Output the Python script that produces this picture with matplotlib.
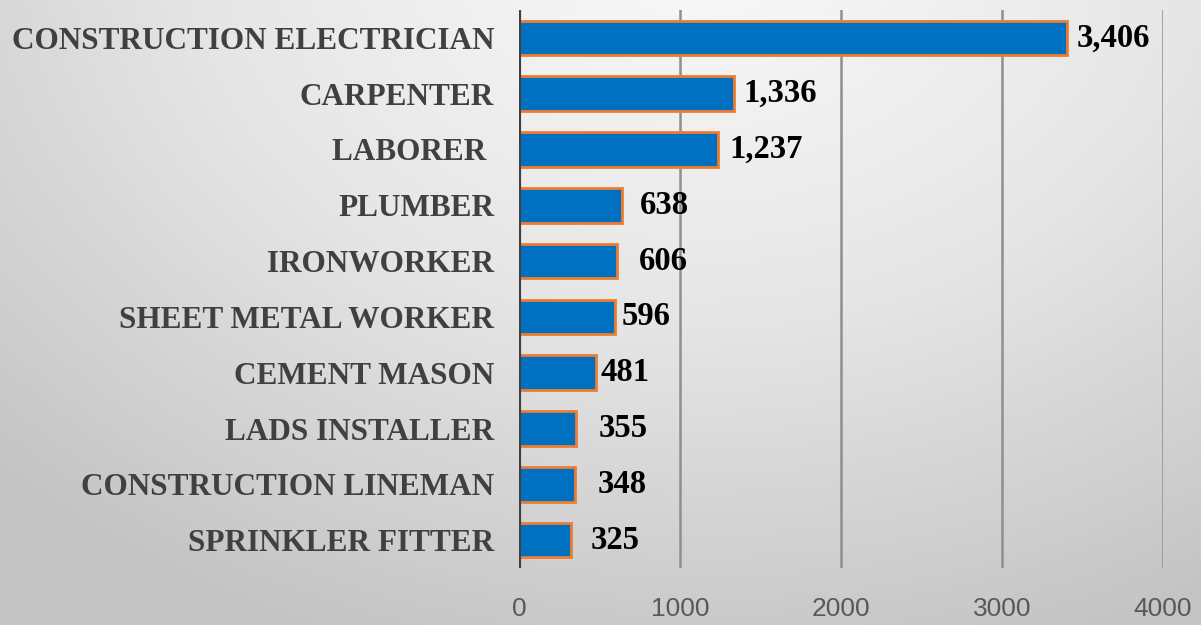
import numpy as np
import matplotlib
matplotlib.use("Agg")
import matplotlib.pyplot as plt
from matplotlib.colors import LinearSegmentedColormap

categories = ["CONSTRUCTION ELECTRICIAN", "CARPENTER", "LABORER ", "PLUMBER", "IRONWORKER",
              "SHEET METAL WORKER", "CEMENT MASON", "LADS INSTALLER", "CONSTRUCTION LINEMAN",
              "SPRINKLER FITTER"]
values = [3406, 1336, 1237, 638, 606, 596, 481, 355, 348, 325]
value_labels = ["3,406", "1,336", "1,237", "638", "606", "596", "481", "355", "348", "325"]
xticks = [0, 1000, 2000, 3000, 4000]

# label offsets in points (style)
label_pad = [7, 7, 8, 13, 16, 5, 3, 16, 16, 14]

W, H = 1201, 625
fig = plt.figure(figsize=(W / 100, H / 100), dpi=100)

# background radial gradient
bg = fig.add_axes([0, 0, 1, 1], zorder=-10)
yy, xx = np.mgrid[0:H, 0:W]
d = np.sqrt(((xx - 700) / 1.0) ** 2 + ((yy + 60) / 0.75) ** 2)
d = np.clip(d / 1000.0, 0, 1)
cmap = LinearSegmentedColormap.from_list("bg", ["#fafafa", "#e6e6e6", "#c4c4c4"])
bg.imshow(d, cmap=cmap, aspect="auto", extent=[0, 1, 0, 1], vmin=0, vmax=1)
bg.axis("off")

ax = fig.add_axes([519 / W, 1 - 568 / H, (1163 - 519) / W, (568 - 10) / H])
ax.patch.set_alpha(0)
y = np.arange(len(categories))
ax.barh(y, values, height=0.62, color="#0070C0", edgecolor="#ED7D31", linewidth=2.0, zorder=3)
ax.set_ylim(len(categories) - 0.5, -0.5)
ax.set_xlim(0, 4000)
ax.set_xticks(xticks)
ax.set_xticklabels([str(t) for t in xticks], family=["Liberation Sans", "DejaVu Sans"],
                   fontsize=19, color="#595959")
ax.tick_params(axis="x", length=0, pad=21)
ax.set_yticks(y)
ax.set_yticklabels(categories, family=["Liberation Serif", "DejaVu Serif"], fontweight="bold",
                   fontsize=22.5, color="#404040")
ax.tick_params(axis="y", length=0, pad=18)
for xv in xticks[1:]:
    ax.axvline(xv, color="#8f8f8f", linewidth=1.8, zorder=1)
ax.axvline(0, color="#404040", linewidth=3, zorder=4)
for s in ax.spines.values():
    s.set_visible(False)

for i, (v, lab) in enumerate(zip(values, value_labels)):
    ax.annotate(lab, (v, i), xytext=(label_pad[i], 0), textcoords="offset points",
                va="center", ha="left", family=["Liberation Serif", "DejaVu Serif"],
                fontweight="bold", fontsize=23.5, color="black")

fig.savefig("out.png", dpi=100)
